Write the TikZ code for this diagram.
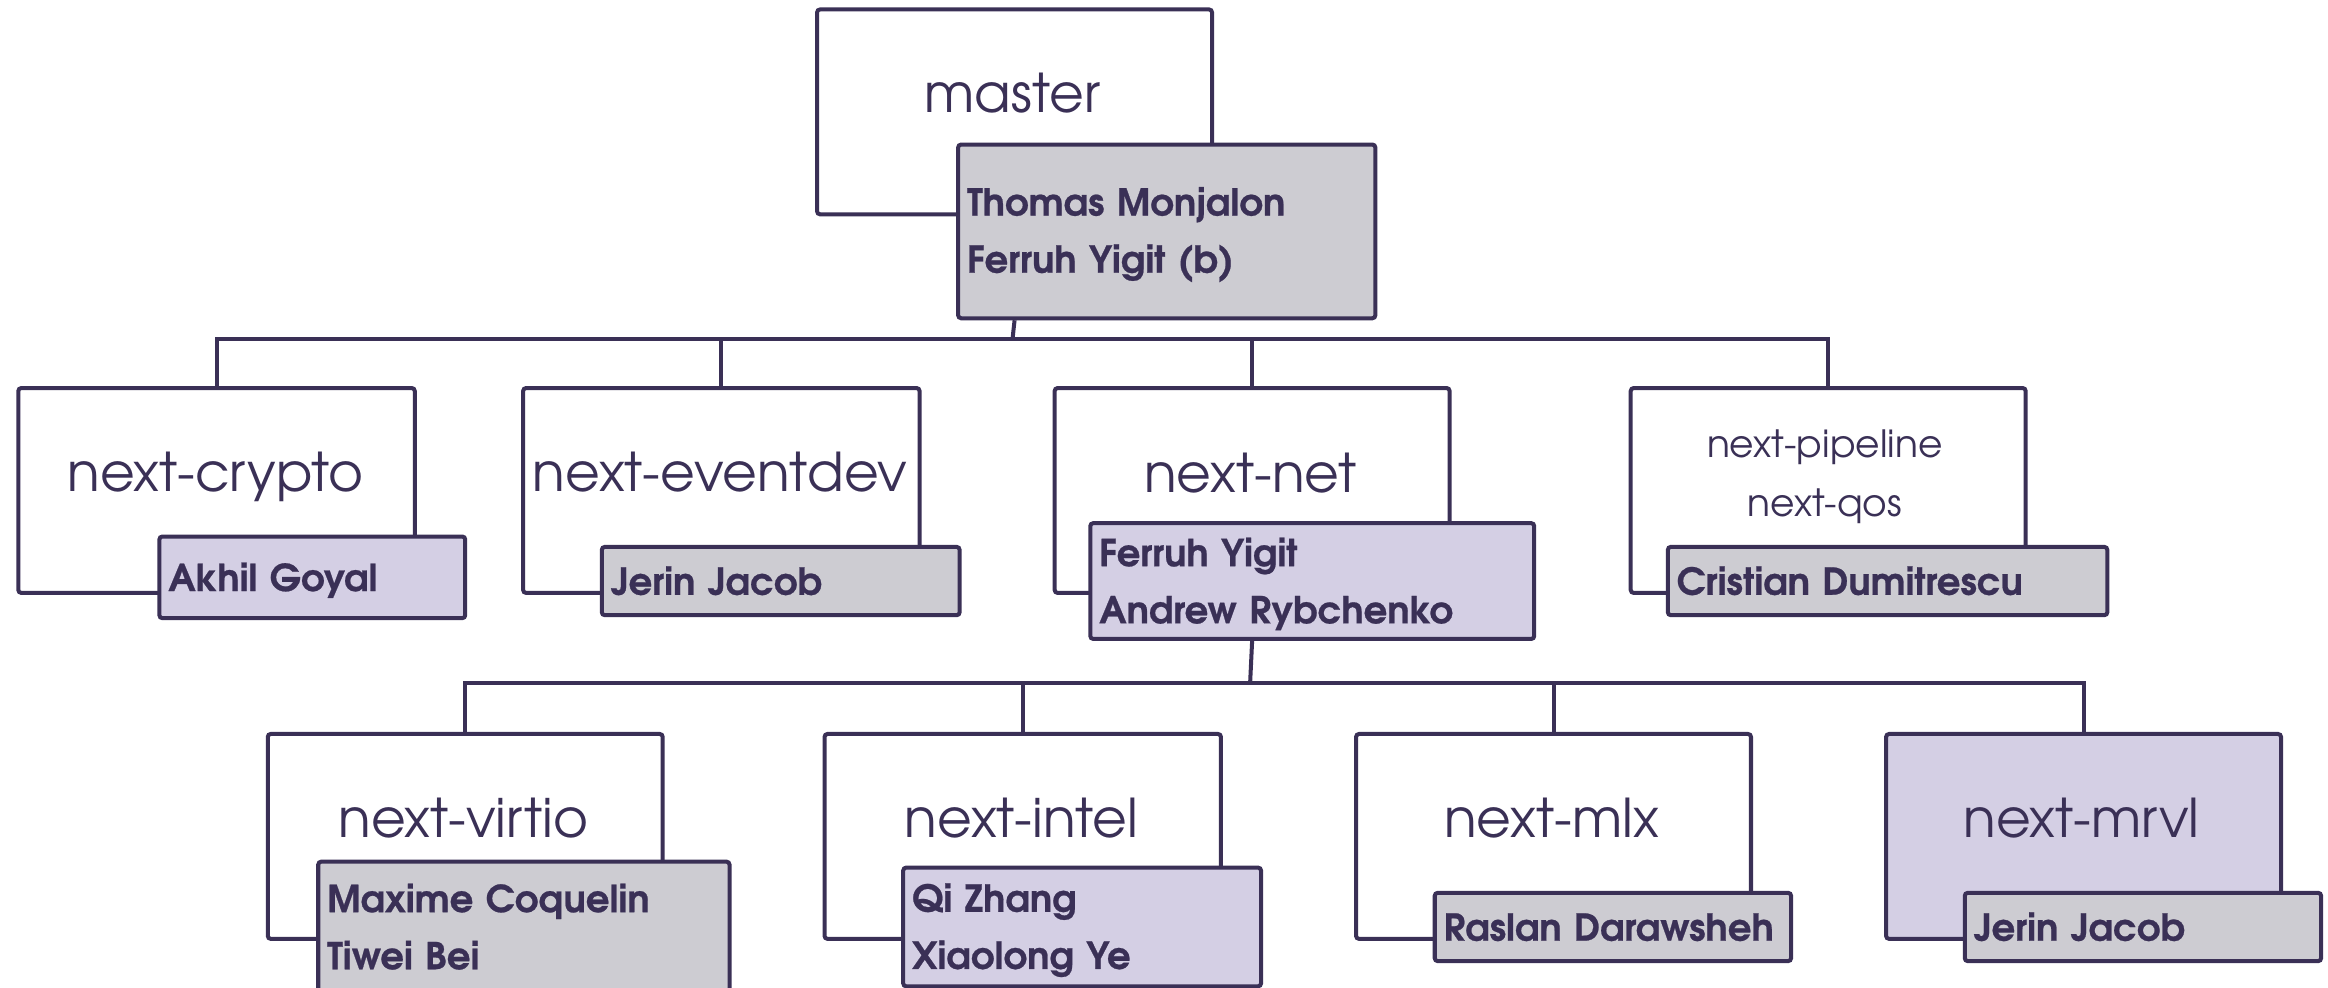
\documentclass[tikz,border=0pt]{standalone}
\usepackage{fontspec}
\setmainfont[BoldFeatures={FakeBold=0.6}]{TeX Gyre Adventor}
\definecolor{ink}{HTML}{3A3056}
\definecolor{gry}{HTML}{CDCCD2}
\definecolor{lav}{HTML}{D4CFE4}
\newcommand\titlefont{\fontsize{36}{42}\selectfont}
\newcommand\smalltitlefont{\fontsize{25.3}{30}\selectfont}
\newcommand\namefont{\bfseries\fontsize{25}{38.5}\selectfont}
\newcommand\nl{\rule[-0.2em]{0pt}{1.14em}}
\tikzset{
  unitbox/.style={draw=ink, line width=2.7pt, rounded corners=2pt, rectangle, inner sep=0pt, anchor=north west},
  namebox/.style={draw=ink, line width=2.7pt, rounded corners=2pt, rectangle, inner xsep=6pt, inner ysep=0pt, align=left, anchor=north west, text=ink, font=\namefont},
  titletext/.style={text=ink, font=\titlefont, inner sep=0pt, anchor=base},
  smalltitle/.style={text=ink, font=\smalltitlefont, inner sep=0pt, anchor=base},
  conn/.style={draw=ink, line width=2.7pt, line join=miter},
}
\newcommand\obox[6]{%
  \pgfmathsetmacro\bw{#4-#2}\pgfmathsetmacro\bh{#5-#3}%
  \node[unitbox, fill=#6, minimum width=\bw pt, minimum height=\bh pt] (#1) at (#2,#3) {};}
\newcommand\nbox[7]{%
  \pgfmathsetmacro\tw{#4-#2-12}\pgfmathsetmacro\bh{#5-#3}%
  \node[namebox, fill=#6, text width=\tw pt, minimum height=\bh pt] (#1) at (#2,#3) {#7};}
\begin{document}
\begin{tikzpicture}[x=1pt, y=-1pt]
\useasboundingbox (0,0) rectangle (1568,665);
% bus coordinates
\coordinate (b1) at (682,228);
\coordinate (b2) at (842,460);
% main boxes
\obox{master}{549}{5}{815}{143}{white}
\obox{crypto}{11}{260}{278}{398}{white}
\obox{eventdev}{351}{260}{618}{398}{white}
\obox{net}{709}{260}{975}{398}{white}
\obox{pipe}{1097}{260}{1363}{398}{white}
\obox{virtio}{179}{493}{445}{631}{white}
\obox{intel}{554}{493}{821}{631}{white}
\obox{mlx}{912}{493}{1178}{631}{white}
\obox{mrvl}{1269}{493}{1535}{631}{lav}
% titles
\node[titletext] (tmaster) at (682,76) {master};
\node[titletext] (tcrypto) at (145,331) {next-crypto};
\node[titletext] (tevent) at (485,331) {next-eventdev};
\node[titletext] (tnet) at (842,332) {next-net};
\node[smalltitle] (tpipe) at (1229,308) {next-pipeline};
\node[smalltitle] (tqos) at (1229,348) {next-qos};
\node[titletext] (tvirtio) at (312,564) {next-virtio};
\node[titletext] (tintel) at (688,564) {next-intel};
\node[titletext] (tmlx) at (1045,564) {next-mlx};
\node[titletext] (tmrvl) at (1402,564) {next-mrvl};
% name boxes
\nbox{nmaster}{644}{96}{925}{213}{gry}{\nl Thomas Monjalon\\\nl Ferruh Yigit (b)}
\nbox{ncrypto}{106}{360}{312}{415}{lav}{\nl Akhil Goyal}
\nbox{nevent}{404}{367}{645}{413}{gry}{\nl Jerin Jacob}
\nbox{nnet}{733}{351}{1032}{429}{lav}{\nl Ferruh Yigit\\\nl Andrew Rybchenko}
\nbox{npipe}{1122}{367}{1418}{413}{gry}{\nl Cristian Dumitrescu}
\nbox{nvirtio}{213}{579}{490}{667}{gry}{\nl Maxime Coquelin\\\nl Tiwei Bei}
\nbox{nintel}{607}{583}{848}{663}{lav}{\nl Qi Zhang\\\nl Xiaolong Ye}
\nbox{nmlx}{965}{600}{1205}{646}{gry}{\nl Raslan Darawsheh}
\nbox{nmrvl}{1322}{600}{1562}{646}{gry}{\nl Jerin Jacob}
% connectors
\draw[conn] (master.south |- nmaster.south) -- (b1);
\draw[conn] (crypto.north) |- (b1) -| (pipe.north);
\draw[conn] (b1) -| (eventdev.north);
\draw[conn] (b1) -| (net.north);
\draw[conn] (net.south |- nnet.south) -- (b2);
\draw[conn] (virtio.north) |- (b2) -| (mrvl.north);
\draw[conn] (b2) -| (intel.north);
\draw[conn] (b2) -| (mlx.north);
\end{tikzpicture}
\end{document}
